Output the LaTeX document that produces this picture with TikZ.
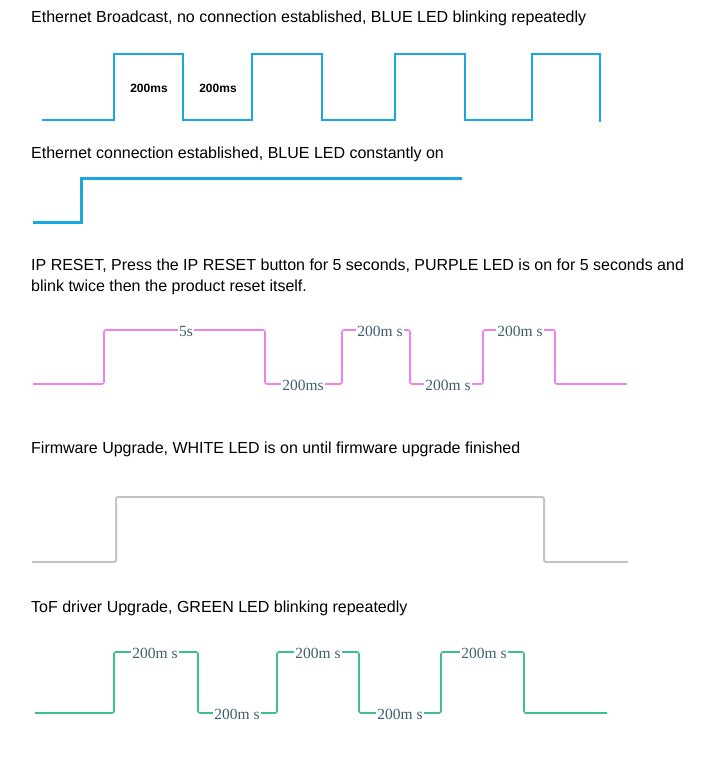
\documentclass[tikz,border=0pt]{standalone}
\usepackage{fontspec}
\setmainfont{Liberation Sans}
\newfontfamily\serifl{Liberation Serif}
\begin{document}
\begin{tikzpicture}[x=1pt,y=-1pt,
  title/.style={anchor=west,inner sep=0pt,font=\fontsize{16}{20.5}\selectfont,align=left},
  lab/.style={fill=white,inner sep=1pt,font=\serifl\fontsize{15.5}{15.5}\selectfont,text=lt},
  blab/.style={inner sep=0pt,font=\bfseries\fontsize{12}{12}\selectfont},
  wave/.style={line width=2.2pt},
  thin/.style={line width=1.6pt}]
\useasboundingbox (0,0) rectangle (706,760);
\definecolor{bl}{HTML}{1AA7DF}
\definecolor{pk}{HTML}{F080F0}
\definecolor{gy}{HTML}{C4C4C4}
\definecolor{gr}{HTML}{3CC08A}
\definecolor{lt}{HTML}{3F5F70}
\node[title] (t1) at (31,18) {Ethernet Broadcast, no connection established, BLUE LED blinking repeatedly};
\draw[wave,bl] (42,120)--(114,120)--(114,54)--(183,54)--(183,120)--(252,120)--(252,54)--(322,54)--(322,120)--(395,120)--(395,54)--(465,54)--(465,120)--(532,120)--(532,54)--(600,54)--(600,122);
\node[blab] (b1) at (149,88) {200ms};
\node[blab] (b2) at (218,88) {200ms};
\node[title] (t2) at (31,154) {Ethernet connection established, BLUE LED constantly on};
\draw[line width=3pt,bl] (33,222)--(81,222)--(81,178)--(462,178);
\node[title,anchor=north west] (t3) at (31,259) {IP RESET, Press the IP RESET button for 5 seconds, PURPLE LED is on for 5 seconds and\\blink twice then the product reset itself.};
\draw[thin,pk,rounded corners=2pt] (33,384)--(104,384)--(104,330)--(265,330)--(265,384)--(342,384)--(342,330)--(410,330)--(410,384)--(483,384)--(483,330)--(555,330)--(555,384)--(627,384);
\node[lab] (p1) at (186,331) {5s};
\node[lab] (p2) at (303,385) {200ms};
\node[lab] (p3) at (380,331) {200m s};
\node[lab] (p4) at (448,385) {200m s};
\node[lab] (p5) at (520,331) {200m s};
\node[title] (t4) at (31,449) {Firmware Upgrade, WHITE LED is on until firmware upgrade finished};
\draw[line width=2pt,gy,rounded corners=2pt] (32,562)--(116,562)--(116,497)--(544,497)--(544,562)--(628,562);
\node[title] (t5) at (31,608) {ToF driver Upgrade, GREEN LED blinking repeatedly};
\draw[thin,gr,rounded corners=2pt] (35,713)--(114,713)--(114,652)--(198,652)--(198,713)--(277,713)--(277,652)--(359,652)--(359,713)--(441,713)--(441,652)--(524,652)--(524,713)--(607,713);
\node[lab] (g1) at (155,653) {200m s};
\node[lab] (g2) at (237,714) {200m s};
\node[lab] (g3) at (318,653) {200m s};
\node[lab] (g4) at (400,714) {200m s};
\node[lab] (g5) at (484,653) {200m s};
\end{tikzpicture}
\end{document}
